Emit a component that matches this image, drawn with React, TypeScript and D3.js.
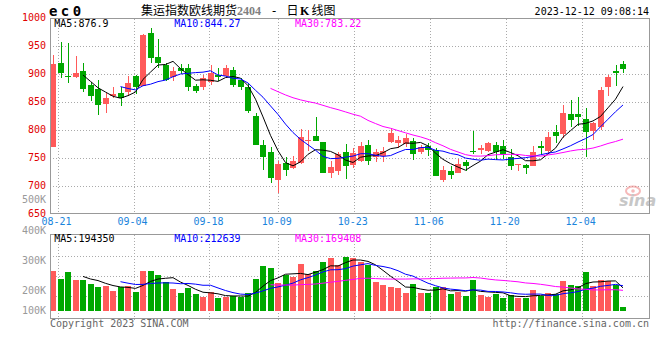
import React from 'react';
import * as d3 from 'd3';

// ---- Data ----
const opens = [770, 920, 897, 895, 905, 881, 874, 846, 861, 866, 867, 896, 879, 974, 930, 916, 895, 910, 911, 879,
  877, 886, 899, 896, 907, 890, 877, 825, 774, 761, 711, 741, 733, 741, 781, 789, 779, 724, 727, 761,
  737, 744, 773, 752, 754, 779, 777, 775, 780, 761, 772, 765, 711, 727, 724, 743, 763, 765, 762, 773,
  771, 752, 737, 738, 736, 771, 762, 797, 793, 829, 829, 820, 799, 806, 876, 905, 918];
const highs = [934, 958, 956, 932, 920, 886, 889, 866, 876, 876, 896, 899, 972, 983, 962, 920, 913, 918, 918, 883,
  898, 916, 910, 916, 912, 892, 884, 830, 782, 770, 744, 752, 753, 802, 800, 823, 779, 744, 761, 775,
  768, 779, 782, 766, 770, 803, 790, 793, 786, 774, 777, 768, 735, 736, 749, 747, 799, 774, 779, 779,
  783, 766, 740, 740, 771, 781, 797, 809, 845, 854, 859, 839, 815, 877, 898, 916, 923];
const lows = [770, 893, 884, 893, 867, 852, 827, 830, 857, 842, 860, 865, 878, 919, 910, 887, 888, 900, 869, 866,
  871, 880, 888, 892, 876, 871, 831, 774, 729, 706, 688, 718, 731, 740, 763, 781, 724, 714, 719, 712,
  733, 742, 738, 742, 743, 777, 768, 770, 747, 758, 754, 718, 707, 713, 724, 726, 757, 758, 761, 747,
  748, 729, 726, 721, 735, 757, 758, 776, 786, 805, 808, 752, 782, 800, 860, 879, 902];
const closes = [918, 902, 895, 902, 874, 861, 845, 857, 864, 857, 884, 877, 970, 929, 920, 889, 905, 905, 876, 870,
  892, 901, 895, 910, 880, 877, 834, 774, 752, 715, 740, 728, 745, 788, 782, 781, 724, 734, 757, 736,
  759, 771, 745, 760, 762, 795, 782, 785, 757, 770, 764, 718, 729, 719, 739, 736, 760, 768, 777, 761,
  758, 735, 739, 733, 760, 767, 788, 790, 831, 818, 824, 796, 812, 871, 895, 901, 909];
// volume in thousand lots
const volumes = [256, 225, 252, 221, 222, 206, 194, 198, 178, 194, 198, 174, 256, 256, 241, 213, 186, 170, 190, 166,
  155, 174, 151, 155, 159, 155, 170, 225, 276, 268, 209, 241, 233, 284, 245, 256, 292, 307, 280, 311,
  307, 292, 280, 213, 202, 194, 190, 170, 206, 170, 170, 194, 194, 166, 175, 159, 221, 163, 155, 166,
  151, 163, 151, 151, 182, 159, 170, 166, 217, 202, 198, 252, 198, 221, 217, 200, 117];

const dateTickLabels = ['08-21', '09-04', '09-18', '10-09', '10-23', '11-06', '11-20', '12-04'];
const dateTickIndex = [1, 11, 21, 30, 40, 50, 60, 70];
const priceTicks = [1000, 950, 900, 850, 800, 750, 700, 650];
const priceGrid = [950, 900, 850, 800, 750, 700];
const volTickValues = [500, 400, 300, 200, 100];
const volTickLabels = ['500K', '400K', '300K', '200K', '100K'];

const mainLegend = [
  { label: 'MA5:876.9', color: '#000000' },
  { label: 'MA10:844.27', color: '#0000ff' },
  { label: 'MA30:783.22', color: '#ff00ff' },
];
const volLegend = [
  { label: 'MA5:194350', color: '#000000' },
  { label: 'MA10:212639', color: '#0000ff' },
  { label: 'MA30:169408', color: '#ff00ff' },
];
const maPeriods = [5, 10, 30];
const maColors = ['#000000', '#0000ff', '#ff00ff'];

// ---- Layout ----
const W = 660, H = 360;
const L = 50, R = 649.5;
const mainTop = 18.5, mainBottom = 213.5;
const volTop = 234.5, volBottom = 318.5;
const RED = '#ff5a5a';
const GREEN = '#00a800';
const MONO = '"DejaVu Sans Mono", "Liberation Mono", monospace';

function movingAvg(arr: number[], n: number): (number | null)[] {
  return arr.map((_, i) => (i < n - 1 ? null : (d3.mean(arr.slice(i - n + 1, i + 1)) as number)));
}

export default function App() {
  const n = closes.length;
  const x = d3.scaleBand<number>().domain(d3.range(80)).range([49.25, 649.25]).paddingInner(0.2).paddingOuter(0.1);
  const cx = (i: number) => (x(i) as number) + x.bandwidth() / 2;
  const gridX = d3.scaleLinear().domain([0, 79]).range([50, 650]);
  const y = d3.scaleLinear().domain([650, 1000]).range([214, 18]);
  const vY = d3.scaleLinear().domain([100, 400]).range([311, 234.3]);
  const vLabelY = d3.scaleLinear().domain([200, 500]).range([291, 200]);

  const priceMAs = maPeriods.map((p) => movingAvg(closes, p));
  const volMAs = maPeriods.map((p) => movingAvg(volumes, p));

  const priceLine = d3.line<number | null>().defined((d) => d != null).x((_, i) => cx(i)).y((d) => y(d as number));
  const volLine = d3.line<number | null>().defined((d) => d != null).x((_, i) => cx(i)).y((d) => vY(d as number));

  const volGrid = d3.range(1, 4).map((k) => Math.round(volTop + 1 + (k * 80) / 4) + 0.5);
  const bw = x.bandwidth();

  return (
    <svg width={W} height={H} style={{ position: 'absolute', left: 0, top: 0, background: '#fff' }} fontFamily={MONO}>
      <rect x={0} y={0} width={W} height={H} fill="#fff" />
      {/* header */}
      <text x={49} y={15.7} fontSize={14} fontWeight="bold" letterSpacing={3.4} fill="#000">ec0</text>
      <text y={14.5} fontSize={12} fill="#000">
        <tspan x={141} fontFamily='"Noto Sans CJK SC", sans-serif'>集运指数欧线期货</tspan>
        <tspan x={237} fontFamily='"Liberation Serif", "DejaVu Serif", serif' fontWeight="bold" fill="#808080">2404</tspan>
        <tspan x={270.5} fontFamily={MONO}>-</tspan>
        <tspan x={286.5} fontFamily='"Noto Sans CJK SC", sans-serif'>日</tspan>
        <tspan x={300} fontFamily='"Liberation Serif", "DejaVu Serif", serif' fontWeight="bold">K</tspan>
        <tspan x={311.5} fontFamily='"Noto Sans CJK SC", sans-serif'>线图</tspan>
      </text>
      <text x={649} y={15} fontSize={10} textAnchor="end" fill="#000">2023-12-12 09:08:14</text>

      {/* main grid */}
      <g stroke="#aaa" strokeDasharray="1,2" shapeRendering="crispEdges">
        {priceGrid.map((v) => (
          <line key={v} x1={L} x2={R} y1={Math.round(y(v)) + 0.5} y2={Math.round(y(v)) + 0.5} />
        ))}
        {dateTickIndex.map((d) => (
          <line key={d} x1={Math.round(gridX(d)) + 0.5} x2={Math.round(gridX(d)) + 0.5} y1={mainTop} y2={mainBottom} />
        ))}
        {volGrid.map((gy) => (
          <line key={gy} x1={L} x2={R} y1={gy} y2={gy} />
        ))}
        {dateTickIndex.map((d) => (
          <line key={'v' + d} x1={Math.round(gridX(d)) + 0.5} x2={Math.round(gridX(d)) + 0.5} y1={volTop} y2={volBottom + 3} />
        ))}
      </g>

      {/* sina watermark */}
      <g opacity={0.55}>
        <ellipse cx={633} cy={191} rx={7} ry={4.5} fill="none" stroke="#f08080" strokeWidth={2} />
        <circle cx={633} cy={191} r={1.8} fill="#f08080" />
        <text x={619} y={206} fontSize={16} fontStyle="italic" fontWeight="bold" fontFamily='"DejaVu Sans", sans-serif' fill="#9a9a9a">sina</text>
      </g>

      {/* candles */}
      <g shapeRendering="crispEdges">
        {closes.map((c, i) => {
          const o = opens[i];
          const col = c >= o ? RED : GREEN;
          const top = y(Math.max(o, c));
          const bot = y(Math.min(o, c));
          const xc = Math.round(cx(i)) + 0.5;
          return (
            <g key={i}>
              <line x1={xc} x2={xc} y1={y(highs[i])} y2={y(lows[i])} stroke={col} strokeWidth={1} />
              <rect x={Math.round(cx(i) - bw / 2)} y={top} width={bw} height={Math.max(1, bot - top)} fill={col} />
            </g>
          );
        })}
      </g>
      {priceMAs.map((ma, k) => (
        <path key={k} d={priceLine(ma) as string} fill="none" stroke={maColors[k]} strokeWidth={1} />
      ))}

      {/* volume bars */}
      <g shapeRendering="crispEdges">
        {volumes.map((v, i) => (
          <rect key={i} x={Math.round(cx(i) - bw / 2)} y={vY(v)} width={bw} height={vY(100) - vY(v)}
            fill={closes[i] >= opens[i] ? RED : GREEN} />
        ))}
      </g>
      {volMAs.map((ma, k) => (
        <path key={k} d={volLine(ma) as string} fill="none" stroke={maColors[k]} strokeWidth={1} />
      ))}

      {/* frames */}
      <g fill="none" stroke="#999" strokeWidth={1} shapeRendering="crispEdges">
        <rect x={L} y={mainTop} width={R - L} height={mainBottom - mainTop} />
        <rect x={L} y={volTop} width={R - L} height={volBottom - volTop} />
      </g>

      {/* price axis labels */}
      {priceTicks.map((v) => (
        <text key={v} x={46} y={y(v) + 2.5} fontSize={10} textAnchor="end" fill="#e00000">{v}</text>
      ))}
      {/* volume axis labels */}
      {volTickValues.map((v, k) => (
        <text key={v} x={46} y={Math.min(vLabelY(v), 311) + 3.4} fontSize={10} textAnchor="end" fill="#999">{volTickLabels[k]}</text>
      ))}
      {/* date labels */}
      {dateTickIndex.map((d, k) => (
        <text key={d} x={gridX(d) - 1} y={225} fontSize={10} textAnchor="middle" fill="#1a84dc">{dateTickLabels[k]}</text>
      ))}

      {/* legends */}
      {mainLegend.map((l, k) => (
        <text key={k} x={[54.3, 174.3, 295][k]} y={27} fontSize={10} fill={l.color}>{l.label}</text>
      ))}
      {volLegend.map((l, k) => (
        <text key={k} x={[54.3, 174.3, 295][k]} y={241.7} fontSize={10} fill={l.color}>{l.label}</text>
      ))}

      {/* footer */}
      <text x={50} y={326.7} fontSize={10} fill="#666">Copyright 2023 SINA.COM</text>
      <text x={649} y={326.7} fontSize={10} textAnchor="end" fill="#666">http://finance.sina.com.cn</text>
    </svg>
  );
}
